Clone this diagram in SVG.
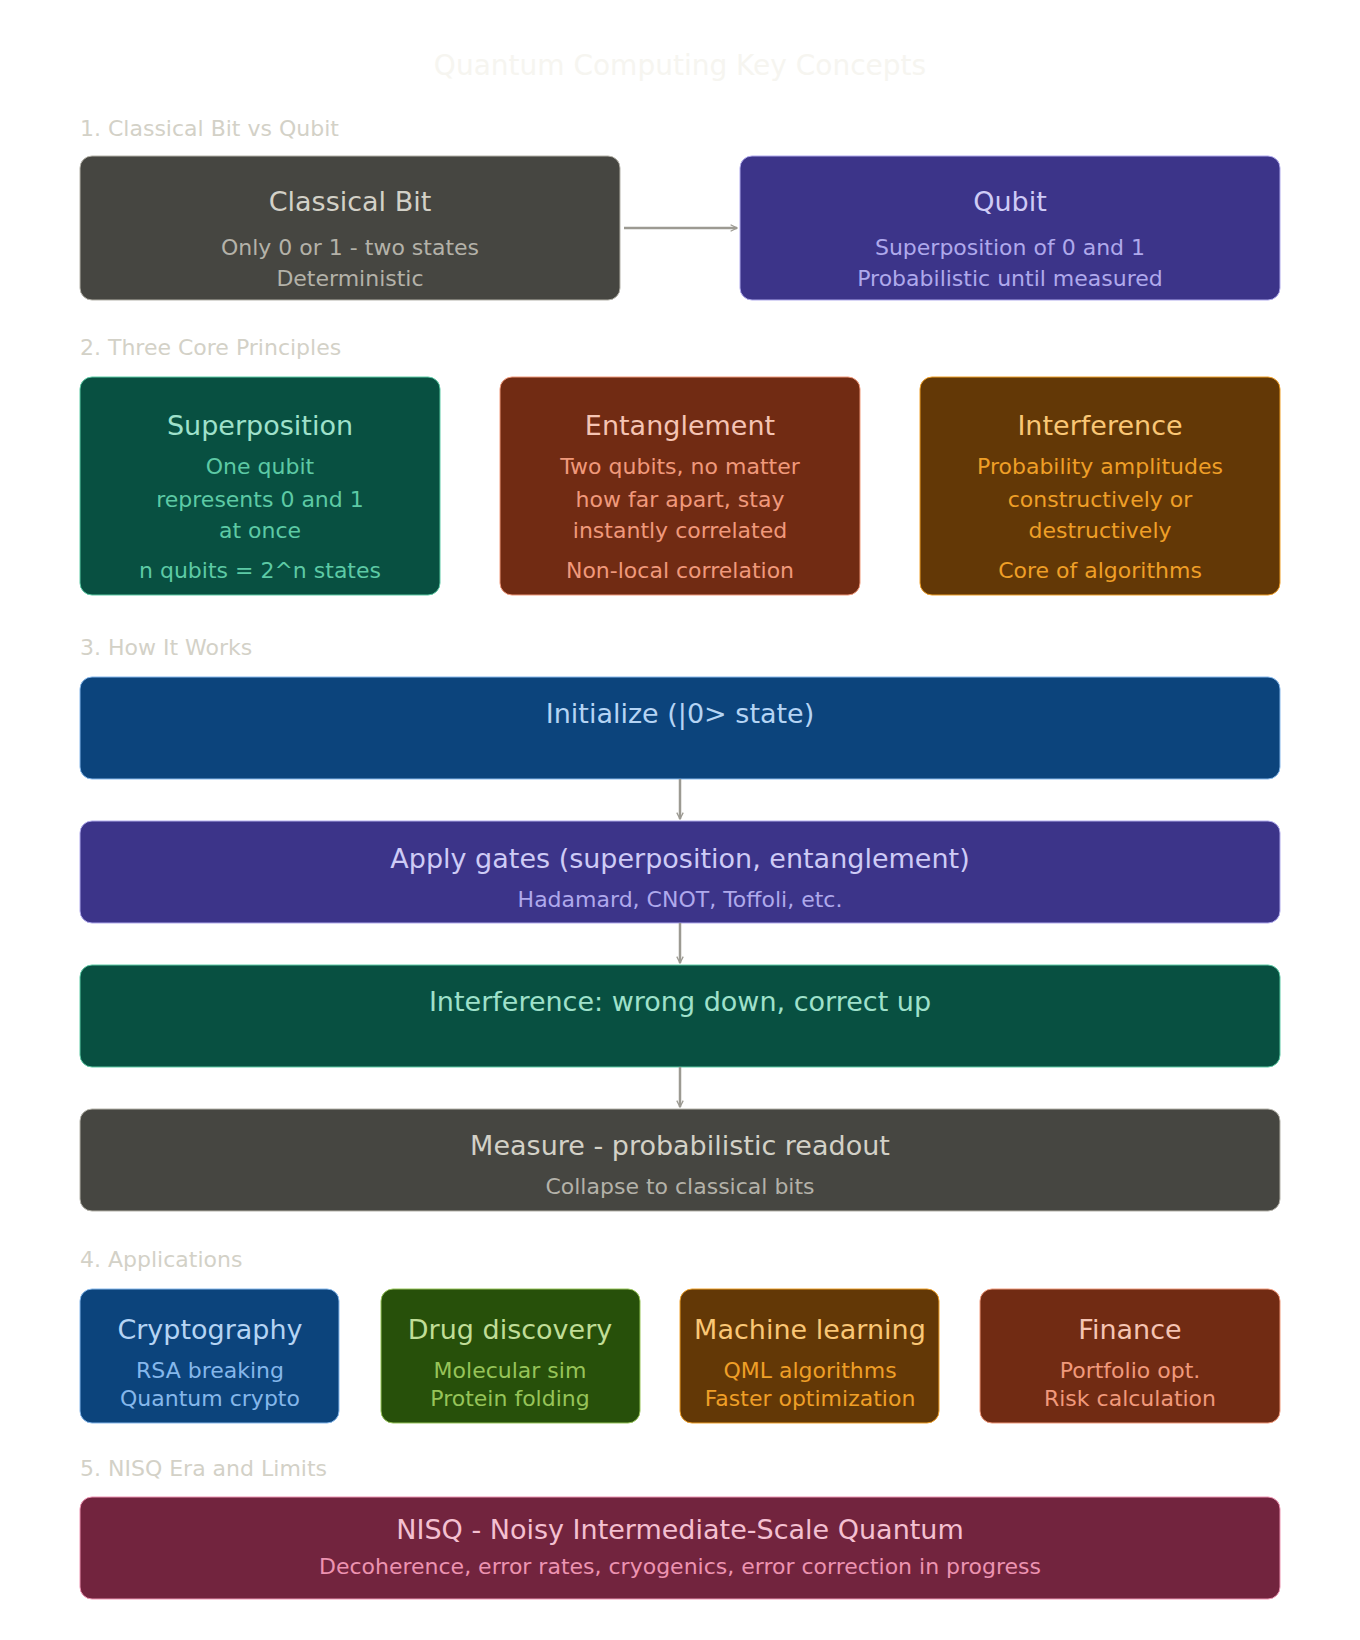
<svg xmlns="http://www.w3.org/2000/svg" width="1360" height="1640" viewBox="0 0 1360 1640">
<style>
text{font-family:"DejaVu Sans","Noto Sans",sans-serif;text-anchor:middle}
.sec{font-size:22px;fill:#d3d1c7;text-anchor:start}
.t{font-size:27px}
.s{font-size:22px}
.ln{stroke:#9c9a92;stroke-width:2.5;fill:none}
</style>
<defs>
<marker id="ah" viewBox="0 0 10 10" refX="9" refY="5" markerWidth="8" markerHeight="8" orient="auto-start-reverse" markerUnits="userSpaceOnUse">
<path d="M1 1L9 5L1 9" fill="none" stroke="#9c9a92" stroke-width="1.6"/>
</marker>
</defs>
<rect width="1360" height="1640" fill="#ffffff"/>
<text x="680" y="75" font-size="28" fill="#f6f5f0">Quantum Computing Key Concepts</text>
<text class="sec" x="80" y="136">1. Classical Bit vs Qubit</text>
<text class="sec" x="80" y="355">2. Three Core Principles</text>
<text class="sec" x="80" y="655">3. How It Works</text>
<text class="sec" x="80" y="1267">4. Applications</text>
<text class="sec" x="80" y="1476">5. NISQ Era and Limits</text>

<g id="classical"><rect x="80" y="156" width="540" height="144" rx="12" fill="#464641" stroke="#b4b2a9" stroke-width="1"/>
<text class="t" x="350" y="211" fill="#d3d1c7">Classical Bit</text>
<text class="s" x="350" y="255" fill="#b4b2a9">Only 0 or 1 - two states</text>
<text class="s" x="350" y="286" fill="#b4b2a9">Deterministic</text></g>
<g id="qubit"><rect x="740" y="156" width="540" height="144" rx="12" fill="#3c3489" stroke="#afa9ec" stroke-width="1"/>
<text class="t" x="1010" y="211" fill="#cecbf6">Qubit</text>
<text class="s" x="1010" y="255" fill="#afa9ec">Superposition of 0 and 1</text>
<text class="s" x="1010" y="286" fill="#afa9ec">Probabilistic until measured</text></g>

<g id="superposition"><rect x="80" y="377" width="360" height="218" rx="12" fill="#085041" stroke="#5dcaa5" stroke-width="1"/>
<text class="t" x="260" y="435" fill="#9fe1cb">Superposition</text>
<text class="s" x="260" y="474" fill="#5dcaa5">One qubit</text>
<text class="s" x="260" y="507" fill="#5dcaa5">represents 0 and 1</text>
<text class="s" x="260" y="538" fill="#5dcaa5">at once</text>
<text class="s" x="260" y="578" fill="#5dcaa5">n qubits = 2^n states</text></g>
<g id="entanglement"><rect x="500" y="377" width="360" height="218" rx="12" fill="#712b13" stroke="#f0997b" stroke-width="1"/>
<text class="t" x="680" y="435" fill="#f5c4b3">Entanglement</text>
<text class="s" x="680" y="474" fill="#f0997b">Two qubits, no matter</text>
<text class="s" x="680" y="507" fill="#f0997b">how far apart, stay</text>
<text class="s" x="680" y="538" fill="#f0997b">instantly correlated</text>
<text class="s" x="680" y="578" fill="#f0997b">Non-local correlation</text></g>
<g id="interference"><rect x="920" y="377" width="360" height="218" rx="12" fill="#633806" stroke="#ef9f27" stroke-width="1"/>
<text class="t" x="1100" y="435" fill="#fac775">Interference</text>
<text class="s" x="1100" y="474" fill="#ef9f27">Probability amplitudes</text>
<text class="s" x="1100" y="507" fill="#ef9f27">constructively or</text>
<text class="s" x="1100" y="538" fill="#ef9f27">destructively</text>
<text class="s" x="1100" y="578" fill="#ef9f27">Core of algorithms</text></g>

<g id="init"><rect x="80" y="677" width="1200" height="102" rx="12" fill="#0c447c" stroke="#85b7eb" stroke-width="1"/>
<text class="t" x="680" y="723" fill="#b5d4f4">Initialize (|0&gt; state)</text></g>
<g id="gates"><rect x="80" y="821" width="1200" height="102" rx="12" fill="#3c3489" stroke="#afa9ec" stroke-width="1"/>
<text class="t" x="680" y="868" fill="#cecbf6">Apply gates (superposition, entanglement)</text>
<text class="s" x="680" y="907" fill="#afa9ec">Hadamard, CNOT, Toffoli, etc.</text></g>
<g id="interf-step"><rect x="80" y="965" width="1200" height="102" rx="12" fill="#085041" stroke="#5dcaa5" stroke-width="1"/>
<text class="t" x="680" y="1011" fill="#9fe1cb">Interference: wrong down, correct up</text></g>
<g id="measure"><rect x="80" y="1109" width="1200" height="102" rx="12" fill="#464641" stroke="#b4b2a9" stroke-width="1"/>
<text class="t" x="680" y="1155" fill="#d3d1c7">Measure - probabilistic readout</text>
<text class="s" x="680" y="1194" fill="#b4b2a9">Collapse to classical bits</text></g>

<g id="crypto"><rect x="80" y="1289" width="259" height="134" rx="12" fill="#0c447c" stroke="#85b7eb" stroke-width="1"/>
<text class="t" x="210" y="1339" fill="#b5d4f4">Cryptography</text>
<text class="s" x="210" y="1378" fill="#85b7eb">RSA breaking</text>
<text class="s" x="210" y="1406" fill="#85b7eb">Quantum crypto</text></g>
<g id="drug"><rect x="381" y="1289" width="259" height="134" rx="12" fill="#27500a" stroke="#97c459" stroke-width="1"/>
<text class="t" x="510" y="1339" fill="#c0dd97">Drug discovery</text>
<text class="s" x="510" y="1378" fill="#97c459">Molecular sim</text>
<text class="s" x="510" y="1406" fill="#97c459">Protein folding</text></g>
<g id="ml"><rect x="680" y="1289" width="259" height="134" rx="12" fill="#633806" stroke="#ef9f27" stroke-width="1"/>
<text class="t" x="810" y="1339" fill="#fac775">Machine learning</text>
<text class="s" x="810" y="1378" fill="#ef9f27">QML algorithms</text>
<text class="s" x="810" y="1406" fill="#ef9f27">Faster optimization</text></g>
<g id="finance"><rect x="980" y="1289" width="300" height="134" rx="12" fill="#712b13" stroke="#f0997b" stroke-width="1"/>
<text class="t" x="1130" y="1339" fill="#f5c4b3">Finance</text>
<text class="s" x="1130" y="1378" fill="#f0997b">Portfolio opt.</text>
<text class="s" x="1130" y="1406" fill="#f0997b">Risk calculation</text></g>

<g id="nisq"><rect x="80" y="1497" width="1200" height="102" rx="12" fill="#72243e" stroke="#ed93b1" stroke-width="1"/>
<text class="t" x="680" y="1539" fill="#f4c0d1">NISQ - Noisy Intermediate-Scale Quantum</text>
<text class="s" x="680" y="1574" fill="#ed93b1">Decoherence, error rates, cryogenics, error correction in progress</text></g>

<g id="connectors">
<line class="ln" x1="624" y1="228" x2="737" y2="228" marker-end="url(#ah)"/>
<line class="ln" x1="680" y1="779" x2="680" y2="819" marker-end="url(#ah)"/>
<line class="ln" x1="680" y1="923" x2="680" y2="963" marker-end="url(#ah)"/>
<line class="ln" x1="680" y1="1067" x2="680" y2="1107" marker-end="url(#ah)"/>
</g>
</svg>
